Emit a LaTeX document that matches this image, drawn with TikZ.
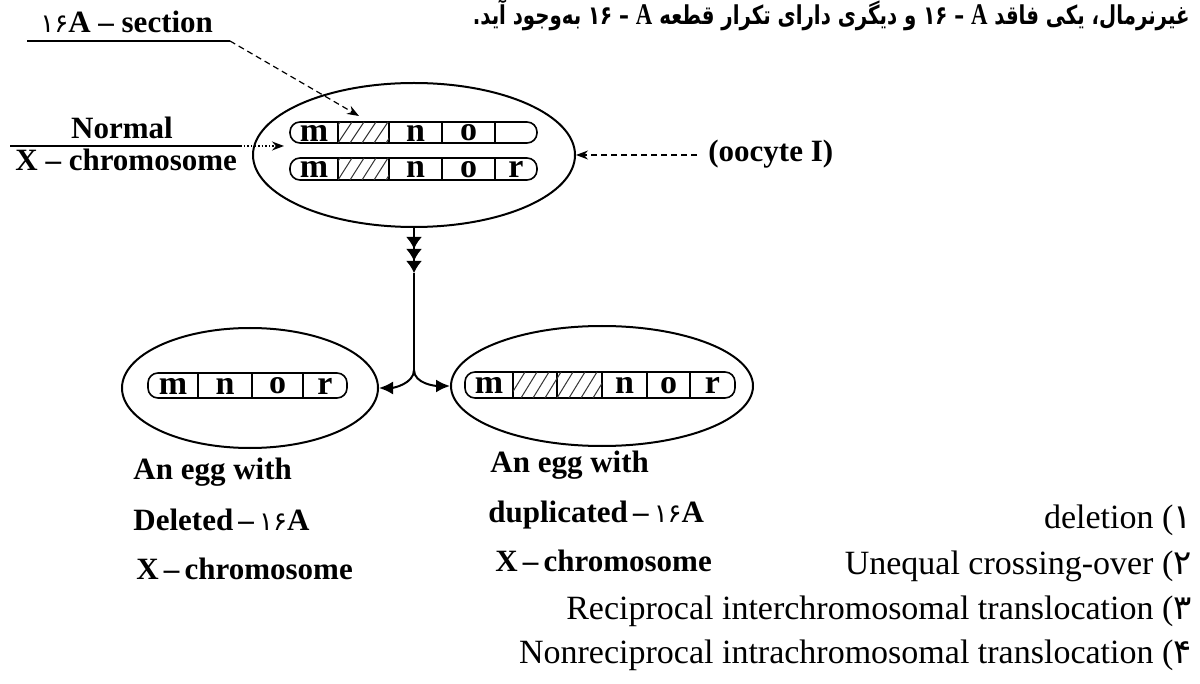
\documentclass[tikz,border=0pt]{standalone}
\usepackage{fontspec}
\setmainfont{Liberation Serif}
\newfontfamily\arabicfont[Script=Arabic]{DejaVu Sans}
\TeXXeTstate=1
\usetikzlibrary{shapes.geometric,arrows.meta}
\newcommand{\pdig}[1]{{\arabicfont\mdseries\fontsize{13}{15}\selectfont #1}}
\newcommand{\latA}{{\rmfamily\bfseries\fontsize{15}{15}\selectfont A}}
\tikzset{
  egg/.style={draw, ellipse, line width=1pt, inner sep=0pt},
  chr/.style={draw, line width=0.8pt, rounded corners=5pt},
  segline/.style={line width=0.8pt},
  hatch/.style={line width=0.5pt, black!80},
  gene/.style={font=\bfseries\fontsize{17}{17}\selectfont, inner sep=0pt},
  lbl/.style={font=\bfseries\fontsize{15.5}{18}\selectfont, inner sep=0pt},
  opt/.style={font=\fontsize{17}{18}\selectfont, inner sep=0pt, anchor=base east},
  dasharrow/.style={densely dashed, line width=0.6pt, -{Stealth[length=6pt,width=4.5pt]}},
  dotarrow/.style={densely dotted, line width=0.8pt, -{Stealth[length=6pt,width=4.5pt]}},
  flow/.style={line width=1pt},
  tip/.style={-{Latex[length=7pt,width=6.5pt]}}
}
\begin{document}
\begin{tikzpicture}[x=0.5pt,y=-0.5pt]
\useasboundingbox (0,0) rectangle (1200,684);

% title
\node[anchor=base east, inner sep=0pt, font=\arabicfont\bfseries\fontsize{13}{15}\selectfont] (title) at (1190,25)
  {\scalebox{0.76}[1]{\beginR غیرنرمال، یکی فاقد \beginL ۱۶ – \latA\endL{} و دیگری دارای تکرار قطعه \beginL ۱۶ – \latA\endL{} به‌وجود آید.\endR}};

% oocyte ellipse
\node[egg, minimum width=161pt, minimum height=72pt] (oo) at (414,155) {};

% chromosome 1 (top)
\draw[chr] (290,122) rectangle (537,143);
\foreach \x in {338,389,442,495} \draw[segline] (\x,122) -- (\x,143);
\begin{scope}
  \clip (338,122) rectangle (389,143);
  \foreach \i in {-12,0,...,52} \draw[hatch] (338+\i,143) -- ++(14,-21);
\end{scope}
\node[gene] (a1) at (314,133) {m};
\node[gene] (a2) at (415.5,133) {n};
\node[gene] (a3) at (468.5,133) {o};

% chromosome 2
\draw[chr] (290,158) rectangle (537,180);
\foreach \x in {338,389,442,495} \draw[segline] (\x,158) -- (\x,180);
\begin{scope}
  \clip (338,158) rectangle (389,180);
  \foreach \i in {-12,0,...,52} \draw[hatch] (338+\i,180) -- ++(14,-22);
\end{scope}
\node[gene] (b1) at (314,169.5) {m};
\node[gene] (b2) at (415.5,169.5) {n};
\node[gene] (b3) at (468.5,169.5) {o};
\node[gene] (b4) at (516,169.5) {r};

% labels top-left
\node[lbl, anchor=base west] (sec) at (40,33) {\pdig{۱۶}A – section};
\coordinate (secL) at (27,41);
\coordinate (secR) at (230,41);
\coordinate (hatchtop) at (359,116);
\draw[line width=0.6pt] (secL) -- (secR);
\draw[dasharrow] (secR) -- (hatchtop);

\node[lbl, anchor=base] (norm) at (122,139) {Normal};
\node[lbl, anchor=base west] (xch) at (15,171) {X – chromosome};
\coordinate (nL) at (10,146);
\coordinate (nR) at (240,146);
\coordinate (nT) at (284,146);
\draw[line width=0.7pt] (nL) -- (nR);
\draw[dotarrow] (nR) -- (nT);

\node[lbl, anchor=base west] (oolbl) at (708,162) {(oocyte I)};
\coordinate (ooS) at (697,155);
\draw[dasharrow] (ooS) -- (oo.east);

% eggs
\node[egg, minimum width=128pt, minimum height=60pt] (le) at (250,388) {};
\node[egg, minimum width=151pt, minimum height=60pt] (re) at (602,386) {};

% left egg chromosome
\draw[chr] (148,373) rectangle (347,398);
\foreach \x in {198,252,303} \draw[segline] (\x,373) -- (\x,398);
\node[gene] (c1) at (173,386) {m};
\node[gene] (c2) at (225,386) {n};
\node[gene] (c3) at (277.5,386) {o};
\node[gene] (c4) at (325,386) {r};

% right egg chromosome
\draw[chr] (465,372) rectangle (735,398);
\foreach \x in {513,557,602,647,690} \draw[segline] (\x,372) -- (\x,398);
\begin{scope}
  \clip (513,372) rectangle (602,398);
  \foreach \i in {-16,-4,...,90} \draw[hatch] (513+\i,398) -- ++(16,-26);
\end{scope}
\node[gene] (d1) at (489,385.5) {m};
\node[gene] (d2) at (624.5,385.5) {n};
\node[gene] (d3) at (668.5,385.5) {o};
\node[gene] (d4) at (712.5,385.5) {r};

% flow arrows
\coordinate (tipc) at (414,273);
\coordinate (split) at (414,370);
\draw[flow, -{Latex[length=6pt,width=8pt,sep=0pt] Latex[length=6pt,width=8pt,sep=0pt] Latex[length=6pt,width=8pt,sep=0pt]}] (oo.south) -- (tipc);
\draw[flow] (tipc) -- (split);
\draw[flow, tip] (split) to[out=-90, in=0, looseness=0.9] (le.east);
\draw[flow, tip] (split) to[out=-90, in=180, looseness=0.9] (re.west);

% bottom labels
\node[lbl, anchor=base west] (l1) at (133,480) {An egg with};
\node[lbl, anchor=base west] (l2) at (133,530) {Deleted\,–\,\pdig{۱۶}A};
\node[lbl, anchor=base west] (l3) at (136,579) {X\,–\,chromosome};

\node[lbl, anchor=base west] (r1) at (490,473) {An egg with};
\node[lbl, anchor=base west] (r2) at (488,522) {duplicated\,–\,\pdig{۱۶}A};
\node[lbl, anchor=base west] (r3) at (495,571) {X\,–\,chromosome};

% options
\node[opt] (o1) at (1192,528) {deletion ({\arabicfont ۱}};
\node[opt] (o2) at (1192,574) {Unequal crossing-over ({\arabicfont ۲}};
\node[opt] (o3) at (1192,619) {Reciprocal interchromosomal translocation ({\arabicfont ۳}};
\node[opt] (o4) at (1192,663) {Nonreciprocal intrachromosomal translocation ({\arabicfont ۴}};
\end{tikzpicture}
\end{document}
